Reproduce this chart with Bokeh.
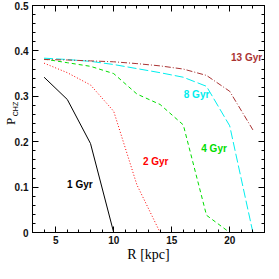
from bokeh.plotting import figure
from bokeh.models import (LinearAxis, FixedTicker, CustomJSTickFormatter, Label, Range1d)
from bokeh.embed import file_html
from bokeh.resources import INLINE

# ---- data ----
R = [4, 6, 8, 10, 12, 14, 16, 18, 20, 22]
p_1gyr = [0.342, 0.293, 0.196, 0.0, 0.0, 0.0, 0.0, 0.0, 0.0, 0.0]
p_2gyr = [0.373, 0.352, 0.325, 0.267, 0.105, 0.0, 0.0, 0.0, 0.0, 0.0]
p_4gyr = [0.382, 0.374, 0.366, 0.350, 0.305, 0.282, 0.237, 0.038, 0.0, 0.0]
p_8gyr = [0.384, 0.381, 0.377, 0.370, 0.361, 0.352, 0.342, 0.322, 0.235, 0.0]
p_13gyr = [0.381, 0.380, 0.378, 0.376, 0.372, 0.367, 0.360, 0.346, 0.311, 0.226]

series_names = ["1 Gyr", "2 Gyr", "4 Gyr", "8 Gyr", "13 Gyr"]
label_x = [5.98, 12.52, 17.55, 16.04, 20.11]
label_y = [0.105, 0.157, 0.184, 0.304, 0.385]

x_major = [5, 10, 15, 20]
x_minor = list(range(3, 24))
y_major = [0.0, 0.1, 0.2, 0.3, 0.4, 0.5]
y_minor = [round(i * 0.02, 2) for i in range(26)]

x_title = "R [kpc]"
y_title_main = "P"
y_title_sub = "CHZ"
y_title_main_at = 0.245
y_title_sub_at = 0.272

colors = ["#000000", "#ff0000", "#00dd00", "#00eeee", "#aa3333"]
dashes = ["solid", "1 2", "4 3", "9 3", "6 2 1 2"]

p = figure(frame_width=232, frame_height=227, output_backend="svg",
           toolbar_location=None, x_range=Range1d(3, 23), y_range=Range1d(0, 0.5),
           min_border_left=30, min_border_right=1, min_border_top=5, min_border_bottom=30,
           x_axis_type=None, y_axis_type=None)
p.background_fill_color = "white"
p.border_fill_color = "white"
p.outline_line_color = "black"
p.outline_line_width = 1
p.xgrid.visible = False
p.ygrid.visible = False

tick_font = "Liberation Sans"
blank = CustomJSTickFormatter(code="return '';")

def make_axis(kind, show_labels):
    ax = LinearAxis()
    if kind == "x":
        ax.ticker = FixedTicker(ticks=x_major, minor_ticks=x_minor)
    else:
        ax.ticker = FixedTicker(ticks=y_major, minor_ticks=y_minor)
        ax.formatter = CustomJSTickFormatter(code="return tick == 0 ? '0' : tick.toFixed(1);")
    ax.axis_line_color = "black"
    ax.axis_line_width = 1
    ax.major_tick_in = 6
    ax.major_tick_out = 0
    ax.minor_tick_in = 3
    ax.minor_tick_out = 0
    ax.major_tick_line_color = "black"
    ax.minor_tick_line_color = "black"
    if show_labels:
        ax.major_label_text_font = tick_font
        ax.major_label_text_font_size = "10px"
        ax.major_label_text_font_style = "bold"
        ax.major_label_text_color = "#111111"
        ax.major_label_standoff = 4 if kind == "y" else 3
    else:
        ax.formatter = blank
        ax.major_label_standoff = 0
    return ax

xb = make_axis("x", True)
xb.axis_label = x_title
xb.axis_label_text_font = "Liberation Serif"
xb.axis_label_text_font_style = "normal"
xb.axis_label_text_font_size = "14px"
xb.axis_label_text_color = "black"
xb.axis_label_standoff = 0
p.add_layout(xb, "below")

p.add_layout(make_axis("y", True), "left")

def title_axis(text, at, font, size, standoff):
    ax = LinearAxis(ticker=FixedTicker(ticks=[at], minor_ticks=[]),
                    formatter=CustomJSTickFormatter(code="return %r;" % text))
    ax.axis_line_color = None
    ax.major_tick_line_color = None
    ax.minor_tick_line_color = None
    ax.major_tick_in = 0
    ax.major_tick_out = 0
    ax.major_label_orientation = "parallel"
    ax.major_label_text_font = font
    ax.major_label_text_font_size = size
    ax.major_label_text_font_style = "normal"
    ax.major_label_text_color = "black"
    ax.major_label_standoff = standoff
    return ax

p.add_layout(title_axis(y_title_sub, y_title_sub_at, tick_font, "7px", -8), "left")
p.add_layout(title_axis(y_title_main, y_title_main_at, "Liberation Serif", "13px", -9), "left")

p.add_layout(make_axis("x", False), "above")
p.add_layout(make_axis("y", False), "right")

all_series = [p_1gyr, p_2gyr, p_4gyr, p_8gyr, p_13gyr]
for ys, c, d in zip(all_series, colors, dashes):
    p.line(R, ys, line_color=c, line_width=1, line_dash=d)

for name, lx, ly, c in zip(series_names, label_x, label_y, colors):
    p.add_layout(Label(x=lx, y=ly, text=name, text_color=c, text_font=tick_font,
                       text_font_size="10px", text_font_style="bold",
                       text_align="left", text_baseline="middle"))

open("out.html", "w").write(file_html(p, INLINE))
